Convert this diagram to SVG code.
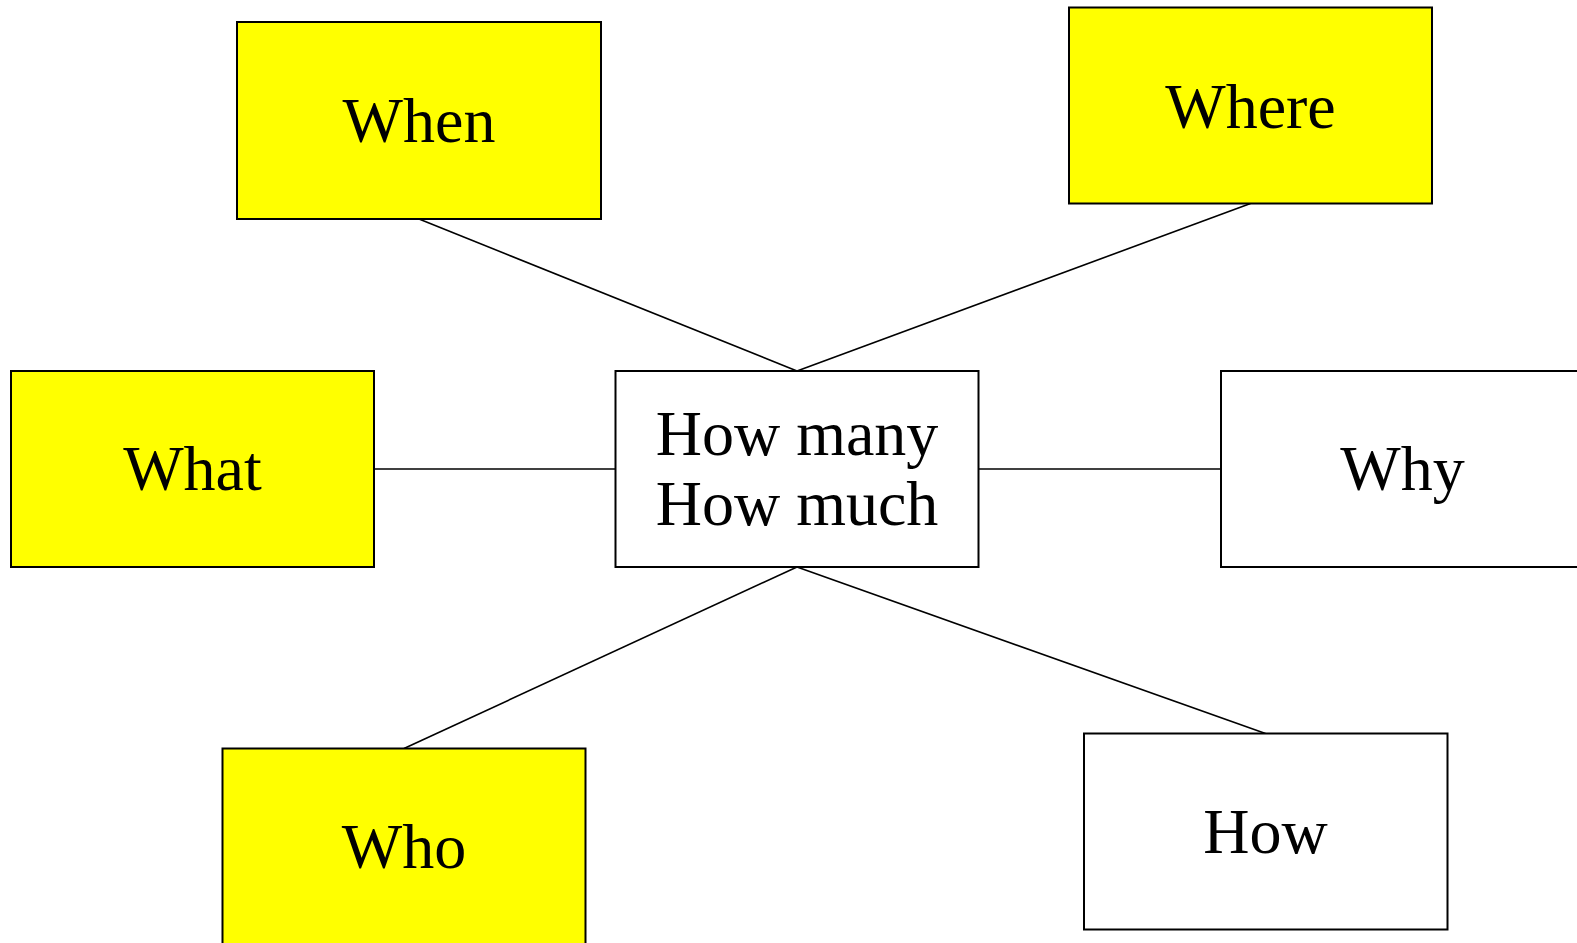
<svg xmlns="http://www.w3.org/2000/svg" width="1577" height="943" viewBox="0 0 1577 943">
  <style>
    .box { stroke: #000; stroke-width: 2; }
    .hi { fill: #ffff00; }
    .plain { fill: #fff; }
    .label { font-family: "Liberation Serif", "Times New Roman", serif; font-size: 64px; fill: #000; text-anchor: middle; }
    .link { stroke: #000; stroke-width: 1.6; fill: none; }
  </style>
  <rect width="1577" height="943" fill="#fff"/>

  <!-- connectors from the central node -->
  <g id="connectors">
    <line class="link" x1="419" y1="219" x2="797" y2="371"/>
    <line class="link" x1="1250.5" y1="203.5" x2="797" y2="371"/>
    <line class="link" x1="374" y1="469" x2="615.5" y2="469"/>
    <line class="link" x1="978.5" y1="469" x2="1221" y2="469"/>
    <line class="link" x1="797" y1="567" x2="404" y2="748.5"/>
    <line class="link" x1="797" y1="567" x2="1265.5" y2="733.5"/>
  </g>

  <g id="when">
    <rect class="box hi" x="237" y="22" width="364" height="197"/>
    <text class="label" x="419" y="142">When</text>
  </g>

  <g id="where">
    <rect class="box hi" x="1069" y="7.5" width="363" height="196"/>
    <text class="label" x="1250.5" y="127.5">Where</text>
  </g>

  <g id="what">
    <rect class="box hi" x="11" y="371" width="363" height="196"/>
    <text class="label" x="192.5" y="490">What</text>
  </g>

  <g id="how-many">
    <rect class="box plain" x="615.5" y="371" width="363" height="196"/>
    <text class="label" x="797" y="454.5">How many</text>
    <text class="label" x="797" y="525">How much</text>
  </g>

  <g id="why">
    <rect class="box plain" x="1221" y="371" width="363" height="196"/>
    <text class="label" x="1402.5" y="490">Why</text>
  </g>

  <g id="who">
    <rect class="box hi" x="222.5" y="748.5" width="363" height="196"/>
    <text class="label" x="404" y="868">Who</text>
  </g>

  <g id="how">
    <rect class="box plain" x="1084" y="733.5" width="363.5" height="196"/>
    <text class="label" x="1265.5" y="852.5">How</text>
  </g>
</svg>
